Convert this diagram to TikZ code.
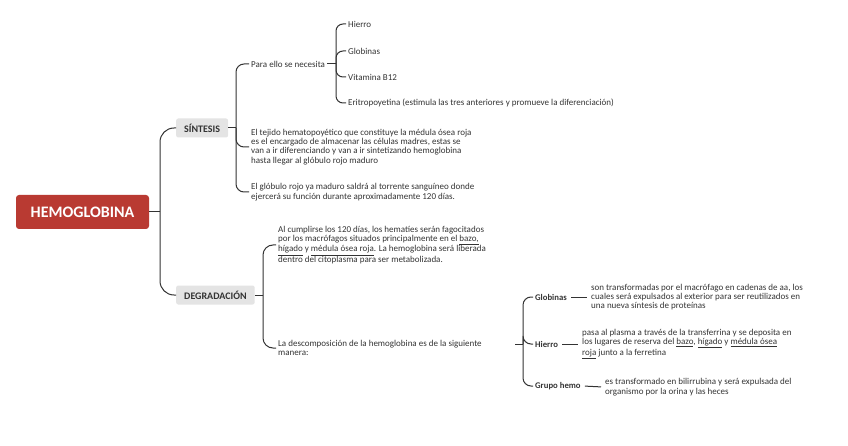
\documentclass[tikz,border=0pt]{standalone}
\usepackage{fontspec}
\setmainfont{Carlito}
\definecolor{hemored}{HTML}{B93A32}
\definecolor{boxgray}{HTML}{E4E4E4}
\definecolor{inkgray}{HTML}{333333}
\tikzset{
  rootbox/.style={fill=hemored, text=white, rounded corners=3pt, minimum width=133pt, minimum height=34pt, font=\fontsize{16}{18}\selectfont\bfseries},
  mainbox/.style={fill=boxgray, text=inkgray, rounded corners=2pt, inner xsep=8pt, minimum height=19pt, anchor=west, font=\fontsize{10}{11}\selectfont\bfseries},
  leaf/.style={text=inkgray, anchor=west, align=left, inner sep=2pt, font=\fontsize{9}{9.3}\selectfont},
  leafbold/.style={leaf, font=\fontsize{8.7}{9.3}\selectfont\bfseries},
  branch/.style={draw=inkgray, line width=1pt, rounded corners=#1},
  branch/.default=8pt
}
\begin{document}
\begin{tikzpicture}[x=1pt, y=-1pt]
\useasboundingbox (0,0) rectangle (848,446);
\node[rootbox] (hemo) at (82.5,212) {HEMOGLOBINA};
\node[mainbox] (sin) at (176,128) {SÍNTESIS};
\node[mainbox] (deg) at (176,295) {DEGRADACIÓN};
\node[leaf] (para) at (249,64) {Para ello se necesita};
\node[leaf] (hie) at (346,24) {Hierro};
\node[leaf] (glo) at (346,51) {Globinas};
\node[leaf] (vit) at (346,77) {Vitamina B12};
\node[leaf] (eri) at (346,103) {Eritropoyetina (estimula las tres anteriores y promueve la diferenciación)};
\node[leaf] (tej) at (249,147) {El tejido hematopoyético que constituye la médula ósea roja\\es el encargado de almacenar las células madres, estas se\\van a ir diferenciando y van a ir sintetizando hemoglobina\\hasta llegar al glóbulo rojo maduro};
\node[leaf] (glr) at (249,192) {El glóbulo rojo ya maduro saldrá al torrente sanguíneo donde\\ejercerá su función durante aproximadamente 120 días.};
\node[leaf] (cum) at (276,245) {Al cumplirse los 120 días, los hematíes serán fagocitados\\por los macrófagos situados principalmente en el \underline{bazo,}\\\underline{hígado} y \underline{médula ósea roja}. La hemoglobina será liberada\\dentro del citoplasma para ser metabolizada.};
\node[leaf] (des) at (276,348) {La descomposición de la hemoglobina es de la siguiente\\manera:};
\node[leafbold] (glb) at (533,297) {Globinas};
\node[leafbold] (hib) at (533,344) {Hierro};
\node[leafbold] (ghb) at (533,386) {Grupo hemo};
\node[leaf] (gltx) at (589,297) {son transformadas por el macrófago en cadenas de aa, los\\cuales será expulsados al exterior para ser reutilizados en\\una nueva síntesis de proteínas};
\node[leaf] (hitx) at (580,344) {pasa al plasma a través de la transferrina y se deposita en\\los lugares de reserva del \underline{bazo}, \underline{hígado} y \underline{médula ósea}\\\underline{roja} junto a la ferretina};
\node[leaf] (ghtx) at (603,387) {es transformado en bilirrubina y será expulsada del\\organismo por la orina y las heces};
\coordinate (j0) at (160,212);
\coordinate (j1) at (236,128);
\coordinate (j2) at (336,64);
\coordinate (j3) at (263,295);
\coordinate (j4) at (523,344);
\coordinate (s4) at (515,344);
\draw[branch] (hemo.east) -- (j0);
\foreach \c in {sin,deg} \draw[branch=14pt] (j0) |- (\c.west);
\draw[branch] (sin.east) -- (j1);
\foreach \c in {para,tej,glr} \draw[branch] (j1) |- (\c.west);
\draw[branch] (para.east) -- (j2);
\foreach \c in {hie,glo,vit,eri} \draw[branch=7pt] (j2) |- (\c.west);
\draw[branch] (deg.east) -- (j3);
\foreach \c in {cum,des} \draw[branch=10pt] (j3) |- (\c.west);
\draw[branch] (s4) -- (j4);
\foreach \c in {glb,hib,ghb} \draw[branch] (j4) |- (\c.west);
\draw[branch, shorten <=2pt, shorten >=2pt] (glb.east) -- (gltx.west);
\draw[branch, shorten <=2pt, shorten >=2pt] (hib.east) -- (hitx.west);
\draw[branch, shorten <=2pt, shorten >=2pt] (ghb.east) -- (ghtx.west);
\end{tikzpicture}
\end{document}
